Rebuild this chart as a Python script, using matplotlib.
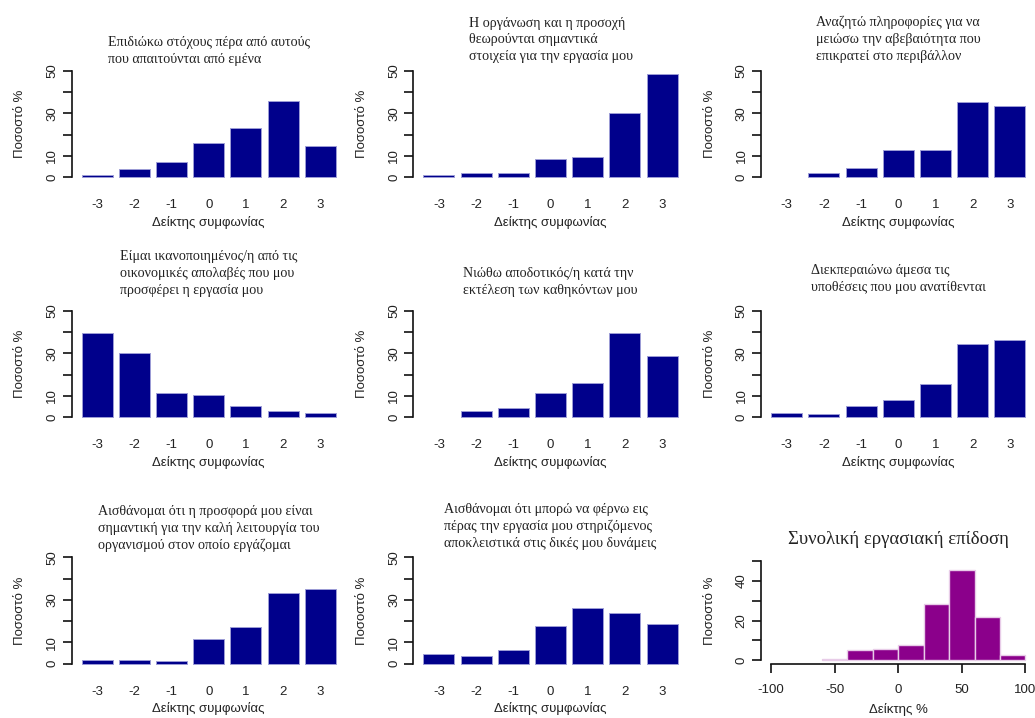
import numpy as np
import matplotlib
matplotlib.use("Agg")
import matplotlib.pyplot as plt

# Agreement scale and per-question percentages
scale = ["-3", "-2", "-1", "0", "1", "2", "3"]

q1 = [0.9, 3.6, 6.9, 16.2, 23.1, 35.7, 14.5]
q2 = [0.8, 1.9, 1.9, 8.6, 9.3, 29.9, 48.7]
q3 = [0.0, 1.9, 4.2, 12.7, 12.7, 35.1, 33.2]
q4 = [39.6, 30.3, 11.5, 10.4, 5.3, 3.0, 1.9]
q5 = [0.0, 2.9, 4.1, 11.4, 16.1, 39.5, 28.7]
q6 = [1.9, 1.3, 5.3, 8.2, 15.6, 34.4, 36.2]
q7 = [1.6, 1.6, 1.1, 11.4, 17.2, 33.1, 35.0]
q8 = [4.7, 3.4, 6.3, 17.7, 26.3, 24.0, 18.8]

questions = [
    "Επιδιώκω στόχους πέρα από αυτούς\nπου απαιτούνται από εμένα",
    "Η οργάνωση και η προσοχή\nθεωρούνται σημαντικά\nστοιχεία για την εργασία μου",
    "Αναζητώ πληροφορίες για να\nμειώσω την αβεβαιότητα που\nεπικρατεί στο περιβάλλον",
    "Είμαι ικανοποιημένος/η από τις\nοικονομικές απολαβές που μου\nπροσφέρει η εργασία μου",
    "Νιώθω αποδοτικός/η κατά την\nεκτέλεση των καθηκόντων μου",
    "Διεκπεραιώνω άμεσα τις\nυποθέσεις που μου ανατίθενται",
    "Αισθάνομαι ότι η προσφορά μου είναι\nσημαντική για την καλή λειτουργία του\nοργανισμού στον οποίο εργάζομαι",
    "Αισθάνομαι ότι μπορώ να φέρνω εις\nπέρας την εργασία μου στηριζόμενος\nαποκλειστικά στις δικές μου δυνάμεις",
]
series = [q1, q2, q3, q4, q5, q6, q7, q8]

# Overall performance index histogram (bins of 20 from -100 to 100)
hist_edges = [-100, -80, -60, -40, -20, 0, 20, 40, 60, 80, 100]
hist_pct = [0.0, 0.0, 0.85, 5.1, 5.8, 7.8, 28.1, 45.4, 22.0, 2.7]

W, H = 1035, 718
fig = plt.figure(figsize=(W / 100, H / 100), dpi=100)

sans = "Liberation Sans"
serif = "Liberation Serif"
txt = "#222222"
navy = "#00008B"
magenta = "#8B008B"

col_left = [71.5, 413.3, 761.0]
row_top = [66.5, 306.5, 553.0]
pw, ph = 274.5, 114.8
# first title line centre (pixels from top)
title_y = [42.7, 23.3, 22.7, 256.7, 273.3, 271.0, 511.7, 510.0]
line_px = 16.7


def style_axes(ax):
    for s in ["top", "right", "bottom"]:
        ax.spines[s].set_visible(False)
    ax.spines["left"].set_color("#111111")
    ax.spines["left"].set_linewidth(1.2)
    ax.tick_params(axis="y", length=6.5, width=1.2, color="#111111",
                   labelsize=9.5, labelcolor=txt, pad=3)
    for lab in ax.get_yticklabels():
        lab.set_fontfamily(sans)


def edges_for(vals, col):
    # empty categories get no outline at all
    return [col if v > 0 else "none" for v in vals]


pos = np.arange(7) * 1.2 + 0.7
for i, (vals, title) in enumerate(zip(series, questions)):
    r, c = divmod(i, 3)
    left = col_left[c] / W
    bottom = 1 - (row_top[r] + ph) / H
    ax = fig.add_axes([left, bottom, pw / W, ph / H])
    ax.bar(pos, vals, width=1.0, color=navy,
           edgecolor=edges_for(vals, "#9c9cd6"), linewidth=0.7)
    ax.set_xlim(-0.128, 8.728)
    ax.set_ylim(-2, 52)
    ax.set_yticks([0, 10, 20, 30, 40, 50])
    ax.set_yticklabels(["0", "10", "", "30", "", "50"], rotation=90, va="center")
    ax.spines["left"].set_bounds(0, 50)
    ax.set_xticks(pos)
    ax.set_xticklabels(scale, fontfamily=sans)
    ax.tick_params(axis="x", length=0, labelsize=9.5, labelcolor=txt, pad=13)
    style_axes(ax)
    ax.set_ylabel("Ποσοστό %", fontfamily=sans, fontsize=9.5, color=txt)
    ax.yaxis.set_label_coords(-0.165, 0.5)
    ax.set_xlabel("Δείκτης συμφωνίας", fontfamily=sans, fontsize=9.5, color=txt)
    ax.xaxis.set_label_coords(0.5, -0.30)
    n = title.count("\n") + 1
    cy = title_y[i] + (n - 1) * line_px / 2
    fig.text((col_left[c] + pw / 2) / W, 1 - cy / H, title, ha="center",
             va="center", multialignment="left", fontfamily=serif,
             fontsize=10.1, color=txt, linespacing=1.38)

# histogram panel
hx = fig.add_axes([761.0 / W, 1 - 664.3 / H, pw / W, 107.3 / H])
widths = np.diff(hist_edges)
hx.bar(hist_edges[:-1], hist_pct, width=widths, align="edge", color=magenta,
       edgecolor=edges_for(hist_pct, "#e8cce8"), linewidth=1.0)
hx.set_xlim(-108, 108)
hx.set_ylim(-2, 52)
hx.set_yticks([0, 10, 20, 30, 40, 50])
hx.set_yticklabels(["0", "", "20", "", "40", ""], rotation=90, va="center")
hx.spines["left"].set_bounds(0, 50)
style_axes(hx)
hx.spines["bottom"].set_visible(True)
hx.spines["bottom"].set_bounds(-100, 100)
hx.spines["bottom"].set_color("#111111")
hx.spines["bottom"].set_linewidth(1.2)
hx.set_xticks([-100, -50, 0, 50, 100])
hx.set_xticklabels(["-100", "-50", "0", "50", "100"], fontfamily=sans)
hx.tick_params(axis="x", length=6.5, width=1.2, color="#111111",
               labelsize=9.5, labelcolor=txt, pad=8)
hx.set_ylabel("Ποσοστό %", fontfamily=sans, fontsize=9.5, color=txt)
hx.yaxis.set_label_coords(-0.165, 0.5)
hx.set_xlabel("Δείκτης %", fontfamily=sans, fontsize=9.5, color=txt)
hx.xaxis.set_label_coords(0.5, -0.36)
fig.text((761.0 + pw / 2) / W, 1 - 539.3 / H, "Συνολική εργασιακή επίδοση",
         ha="center", va="center", fontfamily=serif, fontsize=13.5, color=txt)

fig.savefig("out.png", dpi=100, facecolor="white")
